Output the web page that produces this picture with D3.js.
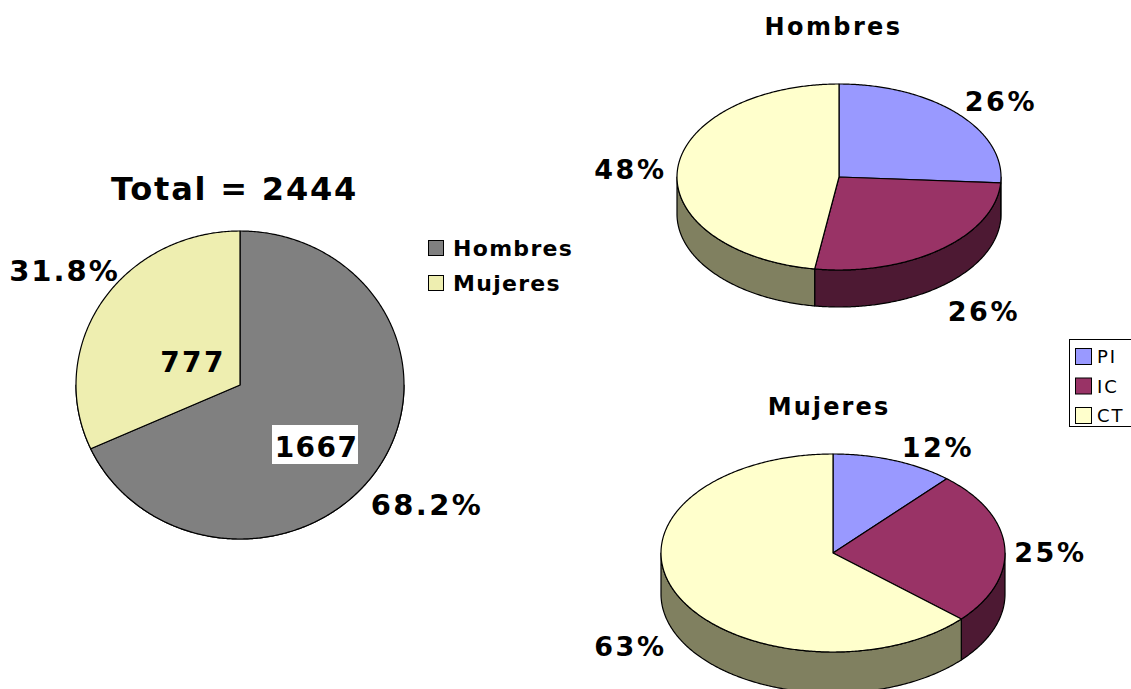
<!DOCTYPE html>
<html><head><meta charset="utf-8">
<script src="https://cdn.jsdelivr.net/npm/d3@7/dist/d3.min.js"></script>
<style>html,body{margin:0;background:#fff}svg{display:block}text{font-family:"DejaVu Sans",Verdana,sans-serif;fill:#000}</style>
</head><body><svg id="c" width="1131" height="689"></svg>
<script>
const totalCategories = ["Hombres", "Mujeres"];
const totalCounts = [1667, 777];
const totalPercentLabels = ["68.2%", "31.8%"];
const totalColors = ["#808080", "#eeeeb0"];
const totalTitle = "Total = 2444";

const subCategories = ["PI", "IC", "CT"];
const hombresValues = [26, 26.4, 47.6];
const mujeresValues = [11.5, 25.1, 63.4];
const hombresLabels = ["26%", "26%", "48%"];
const mujeresLabels = ["12%", "25%", "63%"];
const subColors = ["#9999ff", "#993366", "#ffffcc"];
const sideColors = ["#4d334d", "#4d1933", "#808060"];

const svg = d3.select("#c");
const txt = (s, x, y, size, weight, anchor, ls) => svg.append("text").text(s)
  .attr("x", x).attr("y", y).attr("font-size", size).attr("font-weight", weight || "bold")
  .attr("text-anchor", anchor || "middle").attr("letter-spacing", ls || 0);

const pieGen = d3.pie().sort(null).value(d => d);
const line = d3.line();

function ellipseSlice(cx, cy, rx, ry, a0, a1) {
  const n = Math.max(2, Math.ceil((a1 - a0) / 0.01));
  const angles = d3.range(n + 1).map(i => a0 + (a1 - a0) * i / n);
  return angles.map(a => [cx + rx * Math.sin(a), cy - ry * Math.cos(a)]);
}

function pie3d(values, colors, sides, cx, cy, rx, ry, depth) {
  const arcs = pieGen(values);
  const g = svg.append("g").attr("stroke", "#000").attr("stroke-width", 1.2).attr("stroke-linejoin", "round");
  // walls: only the part of each slice facing the viewer
  arcs.forEach((a, i) => {
    const s = Math.max(a.startAngle, Math.PI / 2), e = Math.min(a.endAngle, 3 * Math.PI / 2);
    if (e <= s) return;
    const top = ellipseSlice(cx, cy, rx, ry, s, e);
    const bottom = top.map(p => [p[0], p[1] + depth]).reverse();
    g.append("path").attr("d", line(top.concat(bottom)) + "Z").attr("fill", sides[i]);
  });
  arcs.forEach((a, i) => {
    const pts = [[cx, cy]].concat(ellipseSlice(cx, cy, rx, ry, a.startAngle, a.endAngle));
    g.append("path").attr("d", line(pts) + "Z").attr("fill", colors[i]);
  });
}

// Left flat pie
const leftX = d3.scaleLinear().domain([-1, 1]).range([76, 404]);
const leftY = d3.scaleLinear().domain([-1, 1]).range([231, 539]);
pie3d(totalCounts, totalColors, totalColors, leftX(0), leftY(0), 164, 154, 0);

txt(totalTitle, 234.5, 200, 32, "bold", "middle", 1.8);
txt(totalPercentLabels[1], 64.5, 281, 29, "bold", "middle", 2);
txt(totalPercentLabels[0], 427, 515, 29, "bold", "middle", 2.4);
txt(totalCounts[1], 193, 372, 28, "bold", "middle", 2.3);
svg.append("rect").attr("x", 272).attr("y", 425).attr("width", 86).attr("height", 39).attr("fill", "#fff");
txt(totalCounts[0], 316.5, 457, 28, "bold", "middle", 1.4);

// Left legend
totalCategories.forEach((c, i) => {
  const y = 240 + i * 35;
  svg.append("rect").attr("x", 428.5).attr("y", y + .5).attr("width", 15).attr("height", 15)
    .attr("fill", totalColors[i]).attr("stroke", "#000");
  txt(c, 453, y + 16, 22, "bold", "start", 1.3);
});

// Right 3D pies
txt("Hombres", 833.5, 35, 24, "bold", "middle", 2.4);
pie3d(hombresValues, subColors, sideColors, 839, 177, 162, 93, 37);
txt(hombresLabels[0], 1001, 111, 27, "bold", "middle", 2.7);
txt(hombresLabels[1], 984, 321, 27, "bold", "middle", 2.7);
txt(hombresLabels[2], 630.5, 179, 27, "bold", "middle", 2.7);

txt("Mujeres", 829, 415, 24, "bold", "middle", 2.1);
pie3d(mujeresValues, subColors, sideColors, 833, 553, 172, 99, 41);
txt(mujeresLabels[0], 938, 457, 27, "bold", "middle", 2.7);
txt(mujeresLabels[1], 1050.5, 562, 27, "bold", "middle", 2.7);
txt(mujeresLabels[2], 630.5, 656, 27, "bold", "middle", 2.7);

// Right legend
svg.append("rect").attr("x", 1069.5).attr("y", 339.5).attr("width", 70).attr("height", 87)
  .attr("fill", "#fff").attr("stroke", "#000");
subCategories.forEach((c, i) => {
  const y = 348 + i * 29.5;
  svg.append("rect").attr("x", 1075.5).attr("y", y + .5).attr("width", 16).attr("height", 16)
    .attr("fill", subColors[i]).attr("stroke", "#000");
  txt(c, 1097, y + 15, 18, "normal", "start", 2);
});
</script></body></html>
